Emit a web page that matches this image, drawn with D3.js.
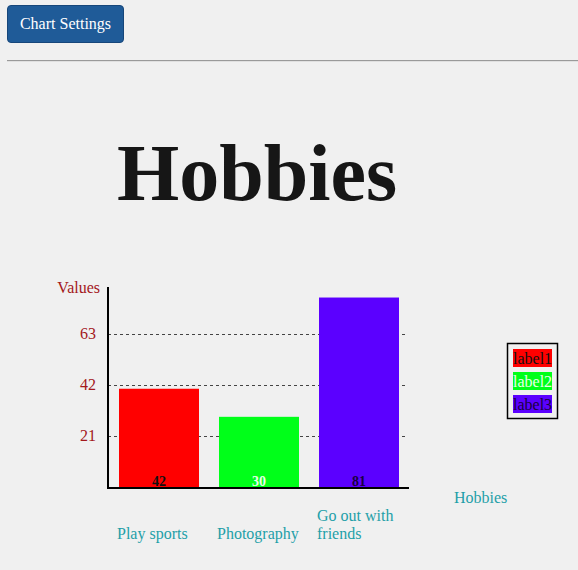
<!DOCTYPE html>
<html>
<head>
<meta charset="utf-8">
<script src="https://cdn.jsdelivr.net/npm/d3@7"></script>
<style>
html,body{margin:0;padding:0;background:#f0f0f0;width:578px;height:570px;overflow:hidden;}
#btn{position:absolute;left:7px;top:5px;width:117px;height:38px;box-sizing:border-box;background:#1f5b98;border:1px solid #16467a;border-radius:4px;color:#fff;font-family:"Liberation Serif",serif;font-size:16px;padding:0;}
#hr{position:absolute;left:7px;top:60px;width:571px;height:0;border-top:1px solid #9a9a9a;border-bottom:1px solid #e0e0e0;}
svg{position:absolute;left:0;top:0;}
</style>
</head>
<body>
<button id="btn">Chart Settings</button>
<div id="hr"></div>
<svg id="chart" width="578" height="570"></svg>
<script>
const title = "Hobbies";
const categories = ["Play sports", "Photography", "Go out with friends"];
const values = [42, 30, 81];
const colors = ["#ff0000", "#00ff19", "#5b00ff"];
const valueTextColors = ["#111111", "#e8ffe8", "#1a0040"];
const legendLabels = ["label1", "label2", "label3"];
const yTicks = [21, 42, 63];
const yAxisTitle = "Values";
const xAxisTitle = "Hobbies";

const svg = d3.select("#chart");
const serif = '"Liberation Serif", "Times New Roman", serif';

svg.append("text").attr("x", 257).attr("y", 200).attr("text-anchor", "middle")
  .attr("font-family", serif).attr("font-weight", "bold").attr("font-size", 80)
  .attr("fill", "#161616").text(title);

const x = d3.scaleBand().domain(categories).range([109, 409]).paddingInner(0.2).paddingOuter(0.1);
const yBar = d3.scaleLinear().domain([0, 85.5]).range([487, 287]);
const yGrid = d3.scaleLinear().domain([0, 84]).range([487, 283]);

// gridlines
svg.append("g").selectAll("line").data(yTicks).join("line")
  .attr("x1", 108).attr("x2", 407)
  .attr("y1", d => yGrid(d) + 0.5).attr("y2", d => yGrid(d) + 0.5)
  .attr("stroke", "#444").attr("stroke-width", 1).attr("stroke-dasharray", "3,3");

// tick labels
svg.append("g").selectAll("text").data(yTicks).join("text")
  .attr("x", 96).attr("y", d => yGrid(d) + 5).attr("text-anchor", "end")
  .attr("font-family", serif).attr("font-size", 16).attr("fill", "#a3171b").text(d => d);

svg.append("text").attr("x", 100).attr("y", 293).attr("text-anchor", "end")
  .attr("font-family", serif).attr("font-size", 16).attr("fill", "#a3171b").text(yAxisTitle);

// bars
svg.append("g").selectAll("rect").data(values).join("rect")
  .attr("x", (d, i) => x(categories[i])).attr("width", x.bandwidth())
  .attr("y", d => yBar(d)).attr("height", d => yBar(0) - yBar(d))
  .attr("fill", (d, i) => colors[i]);

svg.append("g").selectAll("text").data(values).join("text")
  .attr("x", (d, i) => x(categories[i]) + x.bandwidth() / 2).attr("y", 486)
  .attr("text-anchor", "middle").attr("font-family", serif).attr("font-weight", "bold")
  .attr("font-size", 14).attr("fill", (d, i) => valueTextColors[i]).text(d => d);

// axes lines
svg.append("line").attr("x1", 108).attr("x2", 108).attr("y1", 287).attr("y2", 489)
  .attr("stroke", "#000").attr("stroke-width", 2);
svg.append("line").attr("x1", 107).attr("x2", 409).attr("y1", 488).attr("y2", 488)
  .attr("stroke", "#000").attr("stroke-width", 2);

// category labels with wrap, bottom aligned
const teal = "#1e9fa8";
categories.forEach((c, i) => {
  const words = c.split(" ");
  const lines = [];
  let cur = "";
  const tmp = svg.append("text").attr("font-family", serif).attr("font-size", 16);
  words.forEach(w => {
    const test = cur ? cur + " " + w : w;
    tmp.text(test);
    if (tmp.node().getComputedTextLength() > 90 && cur) { lines.push(cur); cur = w; }
    else cur = test;
  });
  lines.push(cur);
  tmp.remove();
  const t = svg.append("text").attr("font-family", serif).attr("font-size", 16).attr("fill", teal);
  lines.forEach((l, j) => {
    t.append("tspan").attr("x", x(c) - 2).attr("y", 539 - (lines.length - 1 - j) * 18).text(l);
  });
});

svg.append("text").attr("x", 454).attr("y", 503).attr("font-family", serif)
  .attr("font-size", 16).attr("fill", teal).text(xAxisTitle);

// legend
svg.append("rect").attr("x", 507.5).attr("y", 343.5).attr("width", 50).attr("height", 75)
  .attr("fill", "none").attr("stroke", "#000").attr("stroke-width", 1.5);
const lg = svg.append("g").selectAll("g").data(legendLabels).join("g")
  .attr("transform", (d, i) => `translate(513,${349 + i * 23})`);
lg.append("rect").attr("width", 39).attr("height", 18).attr("fill", (d, i) => colors[i]);
lg.append("text").attr("x", 0).attr("y", 15).attr("font-family", serif).attr("font-size", 16)
  .attr("fill", (d, i) => valueTextColors[i]).text(d => d);
</script>
</body>
</html>
